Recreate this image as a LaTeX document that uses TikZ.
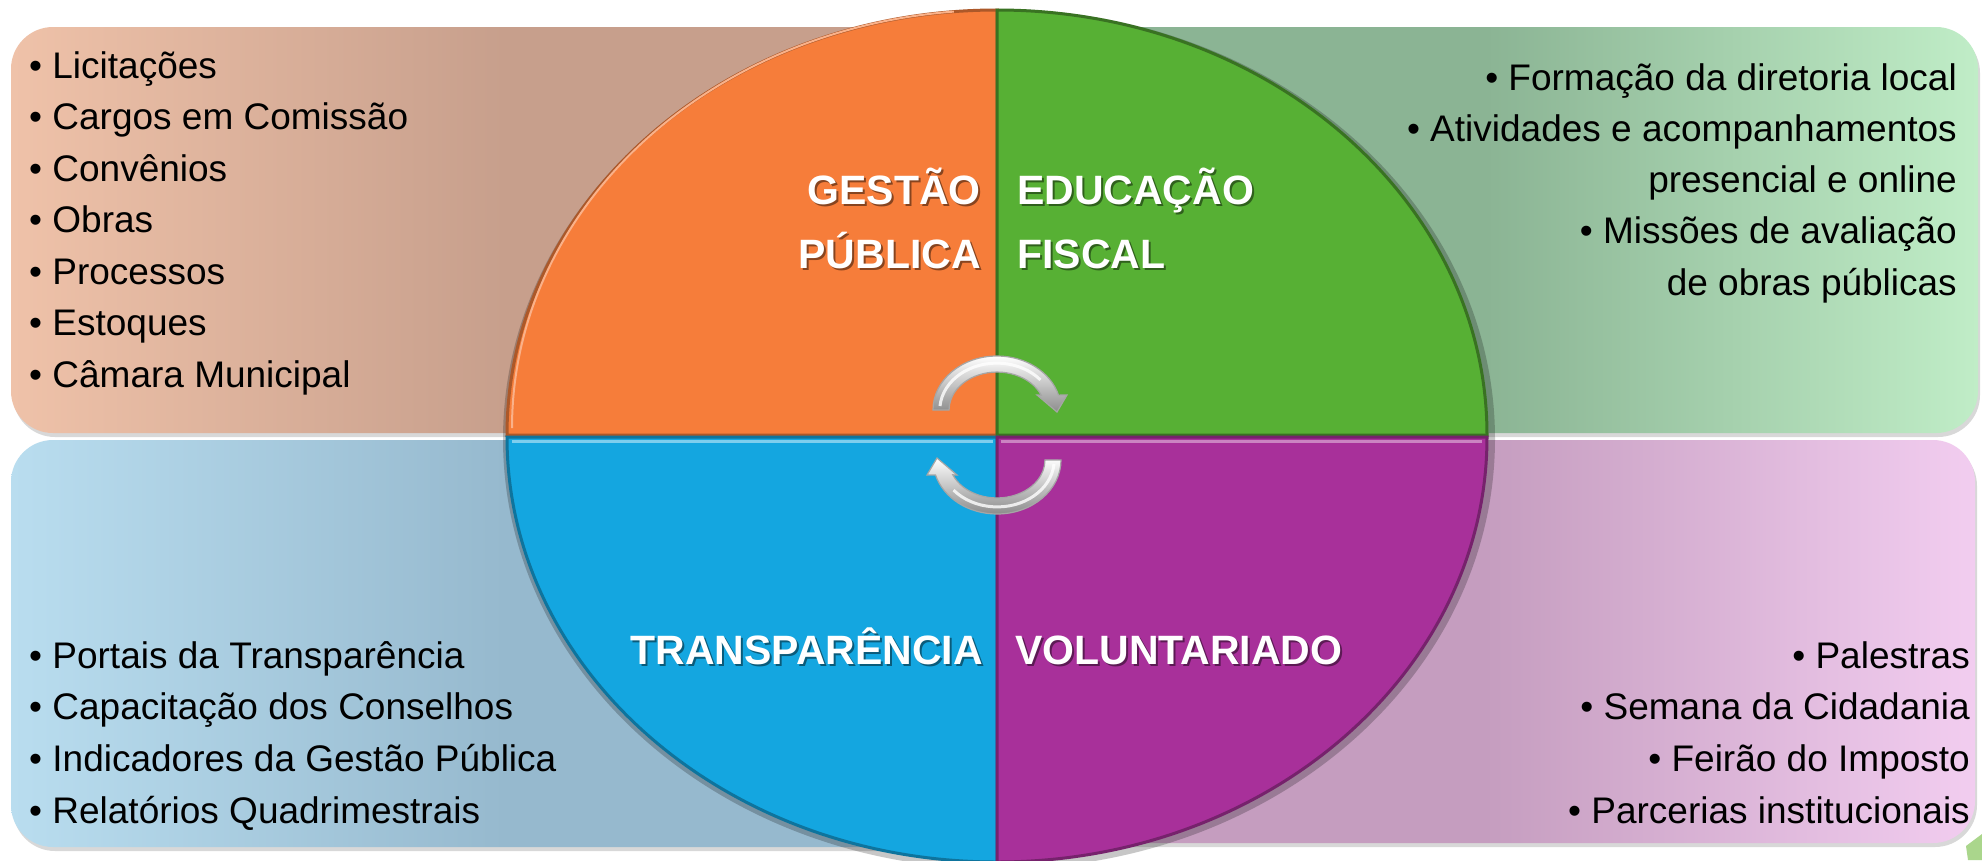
\documentclass[tikz,border=0pt]{standalone}
\usepackage{fontspec}
\setmainfont{Liberation Sans}
\usetikzlibrary{shadows}
\definecolor{qorange}{RGB}{246,125,58}
\definecolor{qgreen}{RGB}{87,176,52}
\definecolor{qblue}{RGB}{20,166,224}
\definecolor{qpurple}{RGB}{168,48,154}
\definecolor{tlA}{RGB}{239,194,169}
\definecolor{tlB}{RGB}{199,159,140}
\definecolor{trA}{RGB}{192,237,199}
\definecolor{trB}{RGB}{139,180,148}
\definecolor{blA}{RGB}{185,221,239}
\definecolor{blB}{RGB}{150,185,206}
\definecolor{brA}{RGB}{242,205,240}
\definecolor{brB}{RGB}{197,157,191}
\definecolor{fragGreen}{RGB}{170,214,140}
\begin{document}
\begin{tikzpicture}[x=1pt,y=-1pt,
  box/.style={rounded corners=42pt, drop shadow={shadow xshift=2pt,shadow yshift=-4pt,opacity=0.3}},
  item/.style={font=\fontsize{37}{50}\selectfont, text=black, inner sep=0pt},
  title/.style={font=\fontsize{41}{60}\selectfont\bfseries, text=white, inner sep=0pt},
  tshadow/.style={font=\fontsize{41}{60}\selectfont\bfseries, text=black, opacity=0.45, inner sep=0pt},
  cyc/.pic={
    \shade[top color=white, bottom color=black!45, draw=black!35, line width=1.2pt]
      (-64,0) arc[start angle=180, end angle=344, x radius=64, y radius=54]
      -- (70,-15) -- (60,2) -- (40,-15) -- (44.2,-14.8)
      arc[start angle=337, end angle=180, x radius=48, y radius=38] -- cycle;
    \draw[white, opacity=0.8, line width=3pt]
      (-57,-4) arc[start angle=185, end angle=320, x radius=57, y radius=47];
  }
]
\useasboundingbox (0,0) rectangle (1982,860);
\fill[white] (0,0) rectangle (1982,860);

% small green fragment at bottom right
\fill[fragGreen] (1966,846) -- (1982,834) -- (1982,860) -- (1968,860) -- cycle;

% boxes
\shade[box, left color=tlA, right color=tlB, middle color=tlB] (11,27) rectangle (1000,433);
\shade[box, right color=trA, left color=trB, middle color=trB] (994,27) rectangle (1978,433);
\shade[box, left color=blA, right color=blB, middle color=blB] (11,440) rectangle (1000,847);
\shade[box, right color=brA, left color=brB, middle color=brB] (994,440) rectangle (1975,843);

% ellipse shadow
\fill[black, opacity=0.22] (999,439) ellipse[x radius=496, y radius=430];

% quadrants
\fill[qorange, draw=qorange!70!black, line width=3pt]
  (997,435) -- (507,435) arc[start angle=180, end angle=270, x radius=490, y radius=425] -- cycle;
\fill[qgreen, draw=qgreen!65!black, line width=3pt]
  (997,435) -- (997,10) arc[start angle=270, end angle=360, x radius=490, y radius=425] -- cycle;
\fill[qblue, draw=qblue!70!black, line width=3pt]
  (997,437) -- (507,437) arc[start angle=180, end angle=90, x radius=490, y radius=425] -- cycle;
\fill[qpurple, draw=qpurple!70!black, line width=3pt]
  (997,437) -- (1487,437) arc[start angle=0, end angle=90, x radius=490, y radius=425] -- cycle;
% highlights
\draw[qorange!60!white, line width=2pt] (512,428) arc[start angle=180, end angle=265, x radius=484, y radius=418];
\draw[qblue!55!white, line width=3pt] (512,441) -- (993,441);
\draw[qpurple!60!white, line width=3pt] (1001,441) -- (1482,441);

% cycle arrows
\pic at (997,410) {cyc};
\pic[rotate=180] at (997,460) {cyc};

% titles
\node[tshadow, anchor=base east] (s1) at (983,206) {GESTÃO};
\node[title, anchor=base east] (t1) at (981,204) {GESTÃO};
\node[tshadow, anchor=base east] (s2) at (983,270) {PÚBLICA};
\node[title, anchor=base east] (t2) at (981,268) {PÚBLICA};
\node[tshadow, anchor=base west] (s3) at (1019,206) {EDUCAÇÃO};
\node[title, anchor=base west] (t3) at (1017,204) {EDUCAÇÃO};
\node[tshadow, anchor=base west] (s4) at (1019,270) {FISCAL};
\node[title, anchor=base west] (t4) at (1017,268) {FISCAL};
\node[tshadow, anchor=base east] (s5) at (985,666) {TRANSPARÊNCIA};
\node[title, anchor=base east] (t5) at (983,664) {TRANSPARÊNCIA};
\node[tshadow, anchor=base west] (s6) at (1017,666) {VOLUNTARIADO};
\node[title, anchor=base west] (t6) at (1015,664) {VOLUNTARIADO};

% lists
\foreach \t [count=\i] in {• Licitações, • Cargos em Comissão, • Convênios, • Obras, • Processos, • Estoques, • Câmara Municipal}
  \node[item, anchor=base west] (tl\i) at (29,{78+51.5*(\i-1)}) {\t};
\foreach \t [count=\i] in {• Formação da diretoria local, • Atividades e acompanhamentos, presencial e online, • Missões de avaliação, de obras públicas}
  \node[item, anchor=base east] (tr\i) at (1957,{90+51.3*(\i-1)}) {\t};
\foreach \t [count=\i] in {• Portais da Transparência, • Capacitação dos Conselhos, • Indicadores da Gestão Pública, • Relatórios Quadrimestrais}
  \node[item, anchor=base west] (bl\i) at (29,{668+51.7*(\i-1)}) {\t};
\foreach \t [count=\i] in {• Palestras, • Semana da Cidadania, • Feirão do Imposto, • Parcerias institucionais}
  \node[item, anchor=base east] (br\i) at (1970,{668+51.7*(\i-1)}) {\t};
\end{tikzpicture}
\end{document}
